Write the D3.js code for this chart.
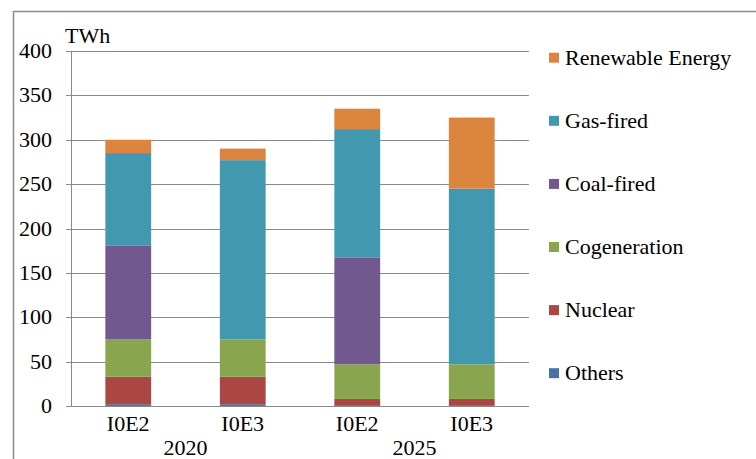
<!DOCTYPE html>
<html>
<head>
<meta charset="utf-8">
<script src="https://cdn.jsdelivr.net/npm/d3@7"></script>
<style>
  body { margin: 0; background: #fff; }
  svg text { font-family: "Liberation Serif", "Times New Roman", serif; font-size: 22px; fill: #000; }
</style>
</head>
<body>
<script>
// data
var categories = ["I0E2", "I0E3", "I0E2", "I0E3"];
var years = ["2020", "2025"];
var seriesNames = ["Others", "Nuclear", "Cogeneration", "Coal-fired", "Gas-fired", "Renewable Energy"];
var others = [2, 2, 1, 1];
var nuclear = [31, 31, 7, 7];
var cogeneration = [42, 42, 39, 39];
var coalFired = [106, 0, 120, 0];
var gasFired = [104, 202, 145, 198];
var renewable = [15, 13, 23, 80];
var yTicks = [0, 50, 100, 150, 200, 250, 300, 350, 400];

var colors = ["#4572a7", "#aa4643", "#89a54e", "#71588f", "#4198af", "#db843d"];

var svgWidth = 756;
var svgHeight = 459;

var margin = { top: 51, left: 71, right: 227, bottom: 53 };
var width = svgWidth - margin.left - margin.right;
var height = svgHeight - margin.top - margin.bottom;

var svg = d3.select("body")
  .append("svg")
  .attr("width", svgWidth)
  .attr("height", svgHeight);

// outer frame
svg.append("path")
  .attr("d", "M13.5," + svgHeight + " V11.5 H" + svgWidth)
  .attr("fill", "none")
  .attr("stroke", "#8c8c8c")
  .attr("stroke-width", 1.5);

var chartGroup = svg.append("g")
  .attr("transform", `translate(${margin.left}, ${margin.top})`);

// build rows for stacking
var rows = categories.map(function(c, i) {
  return {
    idx: i,
    "Others": others[i],
    "Nuclear": nuclear[i],
    "Cogeneration": cogeneration[i],
    "Coal-fired": coalFired[i],
    "Gas-fired": gasFired[i],
    "Renewable Energy": renewable[i]
  };
});

var stacked = d3.stack().keys(seriesNames)(rows);

var xScale = d3.scaleBand()
  .domain(d3.range(categories.length))
  .range([0, width])
  .paddingInner(0.6)
  .paddingOuter(0.3);

var yScale = d3.scaleLinear()
  .domain([0, 400])
  .range([height, 0]);

// gridlines
chartGroup.append("g")
  .selectAll("line")
  .data(yTicks)
  .enter()
  .append("line")
  .attr("x1", -5)
  .attr("x2", width)
  .attr("y1", d => Math.round(yScale(d)) + 0.5)
  .attr("y2", d => Math.round(yScale(d)) + 0.5)
  .attr("stroke", "#8a8a8a")
  .attr("stroke-width", 1);

// y axis line
chartGroup.append("line")
  .attr("x1", 0.5).attr("x2", 0.5)
  .attr("y1", 0).attr("y2", height)
  .attr("stroke", "#8a8a8a");

// y tick labels
chartGroup.append("g")
  .selectAll("text")
  .data(yTicks)
  .enter()
  .append("text")
  .attr("x", -19)
  .attr("y", d => yScale(d) + 7)
  .attr("text-anchor", "end")
  .text(d => d);

// unit label
chartGroup.append("text")
  .attr("x", -6)
  .attr("y", -8)
  .text("TWh");

// bars
chartGroup.selectAll(".series")
  .data(stacked)
  .enter()
  .append("g")
  .attr("fill", (d, i) => colors[i])
  .selectAll("rect")
  .data(d => d)
  .enter()
  .append("rect")
  .attr("x", d => xScale(d.data.idx))
  .attr("width", xScale.bandwidth())
  .attr("y", d => yScale(d[1]))
  .attr("height", d => yScale(d[0]) - yScale(d[1]));

// x axis category labels
chartGroup.append("g")
  .selectAll("text")
  .data(categories)
  .enter()
  .append("text")
  .attr("x", (d, i) => xScale(i) + xScale.bandwidth() / 2)
  .attr("y", height + 25)
  .attr("text-anchor", "middle")
  .text(d => d);

// year labels
chartGroup.append("g")
  .selectAll("text")
  .data(years)
  .enter()
  .append("text")
  .attr("x", (d, i) => (xScale(i * 2) + xScale(i * 2 + 1) + xScale.bandwidth()) / 2)
  .attr("y", height + 49)
  .attr("text-anchor", "middle")
  .text(d => d);

// legend
var legendOrder = seriesNames.slice().reverse();
var legend = svg.append("g")
  .selectAll("g")
  .data(legendOrder)
  .enter()
  .append("g")
  .attr("transform", (d, i) => `translate(549, ${57.7 + i * 63.1})`);

legend.append("rect")
  .attr("x", 0)
  .attr("y", -5)
  .attr("width", 10)
  .attr("height", 10)
  .attr("fill", d => colors[seriesNames.indexOf(d)]);

legend.append("text")
  .attr("x", 16)
  .attr("y", 7)
  .text(d => d);
</script>
</body>
</html>
